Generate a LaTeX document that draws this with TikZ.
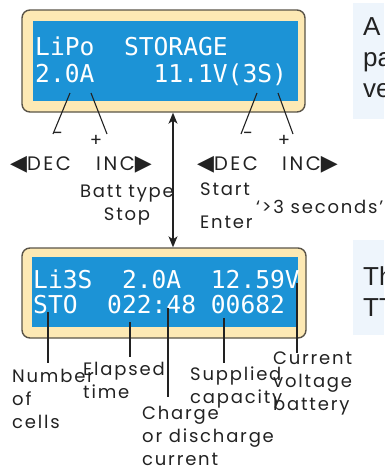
\documentclass[tikz,border=0pt]{standalone}
\usepackage{fontspec}
\setmainfont{Poppins}
\newfontfamily\labfont[LetterSpace=10]{Poppins}
\newfontfamily\keyfont[LetterSpace=13]{Poppins}
\newfontfamily\lcdfont{DejaVu Sans Mono}
\newfontfamily\symfont{DejaVu Sans}
\newfontfamily\sidefont{Liberation Sans}
\usetikzlibrary{arrows.meta, positioning}
\definecolor{lcdblue}{HTML}{1C93D6}
\definecolor{cream}{HTML}{FDE9B4}
\definecolor{framecol}{HTML}{5A5448}
\definecolor{sidecol}{HTML}{EEF5FC}
\definecolor{inkcol}{HTML}{222222}
\newcommand{\lefttri}{{\symfont\fontsize{22}{22}\selectfont ◀}}
\newcommand{\righttri}{{\symfont\fontsize{22}{22}\selectfont ▶}}

\begin{document}
\begin{tikzpicture}[
    x=1pt, y=-1pt,
    lab/.style={font=\labfont\fontsize{18}{23}\selectfont, text=inkcol, inner sep=0pt, align=left},
    keylab/.style={font=\keyfont\fontsize{19.5}{23}\selectfont, text=inkcol, inner sep=0pt, anchor=base west},
    sgn/.style={font=\labfont\fontsize{18}{18}\selectfont, text=inkcol, inner sep=0pt},
    lcd/.style={font=\lcdfont\fontsize{24.6}{24.6}\selectfont, text=white, inner sep=0pt, anchor=base west},
    sidetxt/.style={font=\sidefont\fontsize{26}{31}\selectfont, text=inkcol, inner sep=0pt, align=left, anchor=base west},
    lcdframe/.style={draw=framecol, fill=cream, line width=1.4pt, rounded corners=8pt, inner sep=0pt},
    lcdscreen/.style={fill=lcdblue, inner sep=0pt},
    pin/.style={inkcol, line width=1.1pt},
    dbl/.style={{Stealth[length=11pt, width=9pt, inset=3pt]}-{Stealth[length=11pt, width=9pt, inset=3pt]}, line width=1.2pt, inkcol},
]
\useasboundingbox (0,0) rectangle (384,466);

% ================================================ side panels
% (a multi-line node sits on the baseline of its last line)
\fill[sidecol] (353,3) rectangle (384,119);
\node[sidetxt] (sidea) at (363,97) {A\\pa\\ve};
\fill[sidecol] (353,240) rectangle (384,335);
\node[sidetxt] (sideb) at (363,316) {Th\\TT};

% ================================================ first display
\node[lcdframe, minimum width=283, minimum height=102] (topframe) at (163.5,61) {};
\node[lcdscreen, minimum width=265, minimum height=80] (topscreen) at (165.5,61) {};
\node[lcd] (topa) at (35,55) {LiPo~~STORAGE};
\node[lcd] (topb) at (35,82) {2.0A~~~~11.1V(3S)};

% the keys
\coordinate (m1a) at (70,93);  \coordinate (m1b) at (53,134);
\coordinate (p1a) at (91,93);  \coordinate (p1b) at (107,134);
\coordinate (m2a) at (257,93); \coordinate (m2b) at (241,134);
\coordinate (p2a) at (278,93); \coordinate (p2b) at (293,134);
\foreach \k in {m1, p1, m2, p2}{
    \draw[pin] (\k a) -- (\k b);
}
\node[sgn] (minus1) at (58,136) {-};
\node[sgn] (plus1) at (96,141) {+};
\node[sgn] (minus2) at (248,136) {-};
\node[sgn] (plus2) at (284,141) {+};

\node[keylab] (dec1) at (10,170) {\lefttri DEC};
\node[keylab] (inc1) at (96,170) {INC\righttri};
\node[keylab] (dec2) at (197,170) {\lefttri DEC};
\node[keylab] (inc2) at (282,170) {INC\righttri};

\node[lab, align=center, anchor=base] (batt) at (127,220) {Batt type\\Stop};
\node[lab, anchor=base west] (start) at (200,228) {Start\\[10pt]Enter};
\node[lab, anchor=base west] (secs) at (256,213) {‘>3 seconds’};

% ================================================ second display
\node[lcdframe, minimum width=284, minimum height=90] (botframe) at (164,293) {};
\node[lcdscreen, minimum width=266, minimum height=70] (botscreen) at (165,292) {};
\node[lcd] (bota) at (33,288) {Li3S~~2.0A~~12.59V};
\node[lcd] (botb) at (33,313) {STO~~022:48~00682};

\draw[dbl] ([xshift=9.5pt]topframe.south) -- ([xshift=9pt]botframe.north);

% what the numbers mean
\coordinate (c1a) at (48,312);  \coordinate (c1b) at (48,363);
\coordinate (c2a) at (130,322); \coordinate (c2b) at (130,357);
\coordinate (c3a) at (168,308); \coordinate (c3b) at (168,397);
\coordinate (c4a) at (224,318); \coordinate (c4b) at (224,363);
\coordinate (c5a) at (297,283); \coordinate (c5b) at (297,353);
\foreach \i in {1,...,5}{
    \draw[pin] (c\i a) -- (c\i b);
}
\node[lab, anchor=base west] (cells) at (12,428) {Number\\of\\cells};
\node[lab, anchor=base west] (elapsed) at (83,398) {Elapsed\\time};
\node[lab, anchor=base west] (charge) at (142,465) {Charge\\or discharge\\current};
\node[lab, anchor=base west] (supplied) at (190,403) {Supplied\\capacity};
\node[lab, anchor=base west] (volt) at (273,410) {Current\\voltage\\battery};

\end{tikzpicture}
\end{document}
